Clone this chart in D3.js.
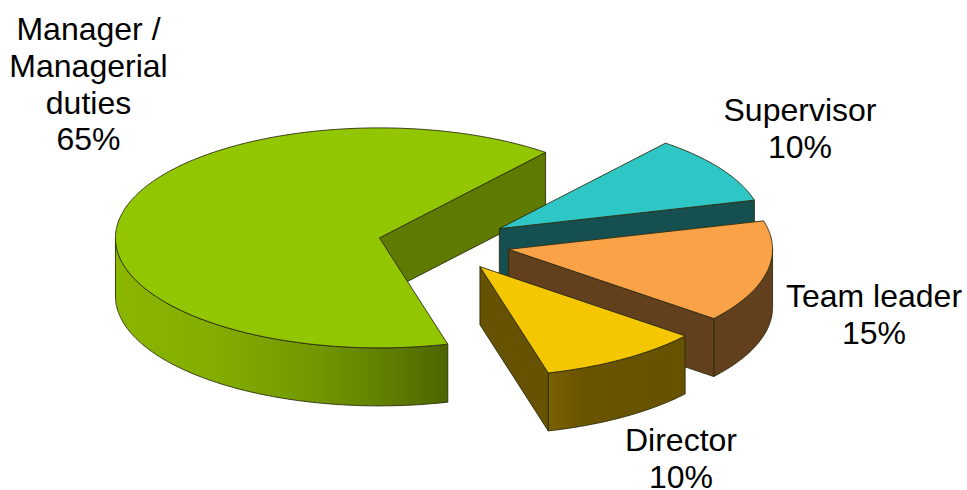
<!DOCTYPE html>
<html>
<head>
<meta charset="utf-8">
<script src="https://cdn.jsdelivr.net/npm/d3@7/dist/d3.min.js"></script>
<style>
  html, body { margin: 0; padding: 0; background: #fff; }
  svg { display: block; }
  text { font-family: "Liberation Sans", Arial, sans-serif; font-size: 32px; fill: #000; }
</style>
</head>
<body>
<svg id="chart" width="967" height="490"></svg>
<script>
// Roles and their share of respondents, in drawing order (back to front)
const categories = ["Manager / Managerial duties", "Supervisor", "Team leader", "Director"];
const shares = [65, 10, 15, 10];
const labelLines = [["Manager /", "Managerial", "duties"], ["Supervisor"], ["Team leader"], ["Director"]];

// Styling per slice: top face, cut wall, outer wall gradient stops
const topColors = ["#92c600", "#2fc7c6", "#f9a248", "#f5c700"];
const wallColors = ["#5e7b00", "#154f50", "#63401d", "#665200"];
const outerStops = [
  [[0, "#8ab600"], [0.3, "#83ad00"], [0.6, "#729800"], [0.85, "#5c7a00"], [1, "#4c6500"]],
  [[0, "#154f50"], [1, "#154f50"]],
  [[0, "#63401d"], [1, "#63401d"]],
  [[0, "#7a6000"], [0.25, "#6a5400"], [1, "#665200"]]
];

// Layout of the tilted pie
const width = 967, height = 490;
const cx = 444, cy = 243.6, rx = 264, ry = 110, depth = 58, explode = 0.25;
const firstAngle = 165 * Math.PI / 180;
const labelX = [88.5, 800, 874, 681];
const labelY = [40, 121, 307, 451];
const lineGap = 36.8;

const px = d3.scaleLinear().domain([-1, 1]).range([cx - rx, cx + rx]);
const py = d3.scaleLinear().domain([-1, 1]).range([cy - ry, cy + ry]);

// Slices past a full turn are brought back into 0..2π so the rim test below is simple
const arcs = d3.pie().sort(null).startAngle(firstAngle).endAngle(firstAngle + 2 * Math.PI)(shares)
  .map(d => {
    const turn = d.startAngle >= 2 * Math.PI ? 2 * Math.PI : 0;
    return { ...d, startAngle: d.startAngle - turn, endAngle: d.endAngle - turn };
  });

const svg = d3.select("#chart");
const defs = svg.append("defs");
const line = d3.line();
const edge = "#2b2b10";

// Screen position of a point on the disc: angle clockwise from the top, radius 0..1
function point(a, r, slice, drop) {
  const mid = (slice.startAngle + slice.endAngle) / 2;
  return [
    px(r * Math.sin(a) + explode * Math.sin(mid)),
    py(-r * Math.cos(a) - explode * Math.cos(mid)) + drop
  ];
}

function rimAngles(a0, a1) {
  const n = Math.max(2, Math.ceil((a1 - a0) / 0.01));
  return d3.range(n + 1).map(i => a0 + (a1 - a0) * i / n);
}

arcs.forEach((slice, i) => {
  const g = svg.append("g").attr("class", "slice").datum(slice);
  const a0 = slice.startAngle, a1 = slice.endAngle;

  // Outer wall: only the part of the rim turned towards the viewer (90° to 270°)
  const lo = Math.max(a0, Math.PI / 2);
  const hi = Math.min(a1, 3 * Math.PI / 2);
  if (hi > lo) {
    const xs = [point(lo, 1, slice, 0)[0], point(hi, 1, slice, 0)[0]];
    const grad = defs.append("linearGradient")
      .attr("id", "outer" + i)
      .attr("gradientUnits", "userSpaceOnUse")
      .attr("x1", d3.min(xs)).attr("x2", d3.max(xs)).attr("y1", 0).attr("y2", 0);
    outerStops[i].forEach(s => grad.append("stop").attr("offset", s[0]).attr("stop-color", s[1]));
    const angles = rimAngles(lo, hi);
    const ring = angles.map(a => point(a, 1, slice, 0))
      .concat(angles.slice().reverse().map(a => point(a, 1, slice, depth)));
    g.append("path")
      .attr("d", line(ring) + "Z")
      .attr("fill", `url(#outer${i})`)
      .attr("stroke", edge).attr("stroke-width", 0.9).attr("stroke-linejoin", "round");
  }

  // Cut wall at the clockwise end of the slice
  const wall = [
    point(a1, 0, slice, 0), point(a1, 1, slice, 0),
    point(a1, 1, slice, depth), point(a1, 0, slice, depth)
  ];
  g.append("path")
    .attr("d", line(wall) + "Z")
    .attr("fill", wallColors[i])
    .attr("stroke", edge).attr("stroke-width", 0.9).attr("stroke-linejoin", "round");

  // Top face
  const face = [point(a0, 0, slice, 0)].concat(rimAngles(a0, a1).map(a => point(a, 1, slice, 0)));
  g.append("path")
    .attr("d", line(face) + "Z")
    .attr("fill", topColors[i])
    .attr("stroke", edge).attr("stroke-width", 0.9).attr("stroke-linejoin", "round");
});

// Category name and percentage beside each slice
categories.forEach((name, i) => {
  const t = svg.append("text")
    .attr("aria-label", name)
    .attr("text-anchor", "middle");
  labelLines[i].concat([shares[i] + "%"]).forEach((s, k) => {
    t.append("tspan")
      .attr("x", labelX[i])
      .attr("y", labelY[i] + k * lineGap)
      .text(s);
  });
});
</script>
</body>
</html>
